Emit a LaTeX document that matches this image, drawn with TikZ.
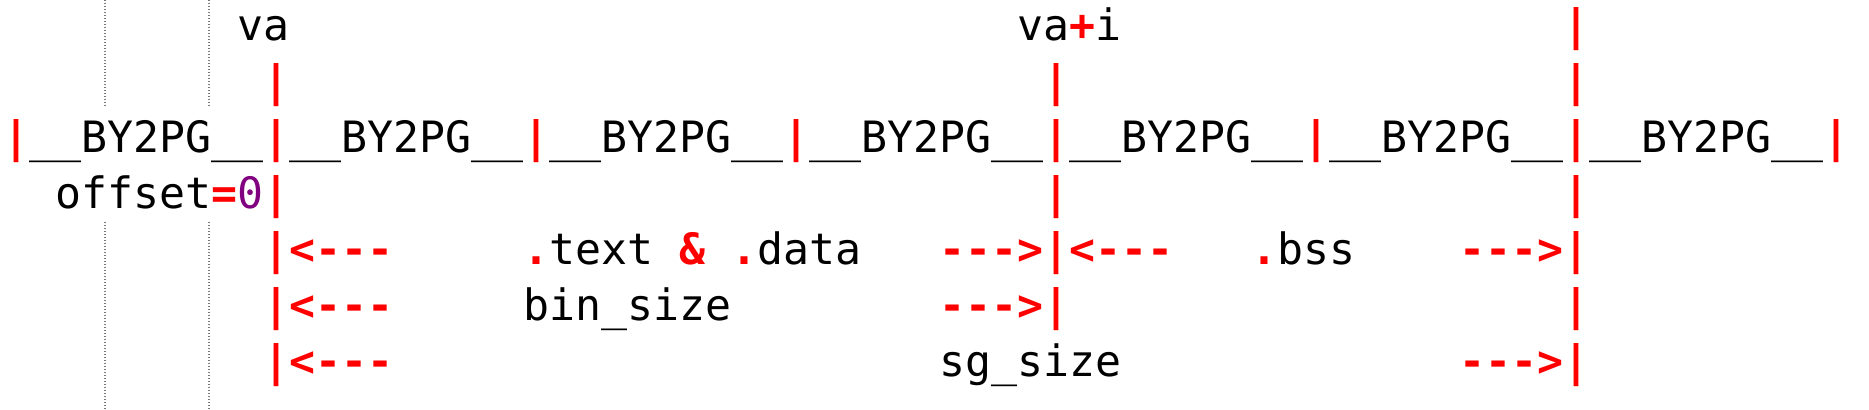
\documentclass[tikz,border=0pt]{standalone}
\usepackage{fontspec}
\setmonofont{DejaVu Sans Mono}
\usepackage{tikz}
\definecolor{kwred}{RGB}{255,0,0}
\definecolor{numpurple}{RGB}{128,0,128}
\definecolor{guidegray}{RGB}{120,120,120}
\newcommand{\hl}[1]{\textcolor{kwred}{\bfseries #1}}
\newcommand{\num}[1]{\textcolor{numpurple}{#1}}
\tikzset{code/.style={anchor=base west,inner sep=0pt,outer sep=0pt,
  font=\ttfamily\fontsize{21.59pt}{26pt}\selectfont},
  guide/.style={guidegray,line width=0.6pt,dash pattern=on 0.5pt off 1pt}}

\begin{document}
\begin{tikzpicture}[x=0.5pt,y=-0.5pt]
\useasboundingbox (0,0) rectangle (1869,410);
% indent guides
\draw [guide] (105,0) -- (105,108);
\draw [guide] (105,222) -- (105,410);
\draw [guide] (209,0) -- (209,108);
\draw [guide] (209,222) -- (209,410);
% line 1
\node[code] (va) at (237.7,41) {va};
\node[code] (vai) at (1017.7,41) {va\hl{+}i};
\node[code] (bartop) at (1563.7,41) {\hl{|}};
% line 2
\node[code] (barva) at (263.7,97) {\hl{|}};
\node[code] (barvai) at (1043.7,97) {\hl{|}};
\node[code] (barend) at (1563.7,97) {\hl{|}};
% line 3, the pages
\node[code] (pages) at (3.7,153) {\hl{|}\_\_BY2PG\_\_\hl{|}\_\_BY2PG\_\_\hl{|}\_\_BY2PG\_\_\hl{|}\_\_BY2PG\_\_\hl{|}\_\_BY2PG\_\_\hl{|}\_\_BY2PG\_\_\hl{|}\_\_BY2PG\_\_\hl{|}};
% line 4
\node[code] (offset) at (55.7,209) {offset\hl{=}\num{0}\hl{|}};
\node[code] (offvai) at (1043.7,209) {\hl{|}};
\node[code] (offend) at (1563.7,209) {\hl{|}};
% line 5
\node[code] (textl) at (263.7,265) {\hl{|<-{}-{}-}};
\node[code] (textdata) at (523.7,265) {\hl{.}text \hl{\&} \hl{.}data};
\node[code] (textr) at (939.7,265) {\hl{-{}-{}->|<-{}-{}-}};
\node[code] (bss) at (1251.7,265) {\hl{.}bss};
\node[code] (bssr) at (1459.7,265) {\hl{-{}-{}->|}};
% line 6
\node[code] (binl) at (263.7,321) {\hl{|<-{}-{}-}};
\node[code] (binsize) at (523.7,321) {bin\_size};
\node[code] (binr) at (939.7,321) {\hl{-{}-{}->|}};
\node[code] (binend) at (1563.7,321) {\hl{|}};
% line 7
\node[code] (sgl) at (263.7,377) {\hl{|<-{}-{}-}};
\node[code] (sgsize) at (939.7,377) {sg\_size};
\node[code] (sgr) at (1459.7,377) {\hl{-{}-{}->|}};
\end{tikzpicture}
\end{document}
